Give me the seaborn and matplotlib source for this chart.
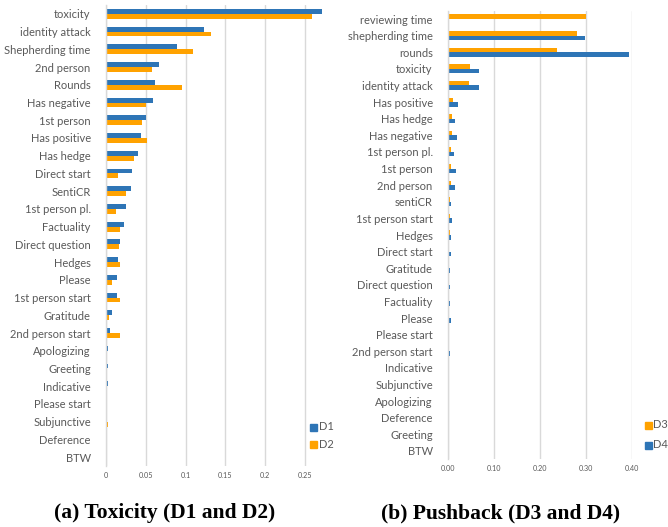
import numpy as np
import pandas as pd
import matplotlib
matplotlib.use("Agg")
import matplotlib.pyplot as plt
import seaborn as sns

# (a) Toxicity: features and values for D1 / D2
tox_features = ["toxicity", "identity attack", "Shepherding time", "2nd person", "Rounds",
                "Has negative", "1st person", "Has positive", "Has hedge", "Direct start",
                "SentiCR", "1st person pl.", "Factuality", "Direct question", "Hedges",
                "Please", "1st person start", "Gratitude", "2nd person start", "Apologizing",
                "Greeting", "Indicative", "Please start", "Subjunctive", "Deference", "BTW"]
d1 = [0.271, 0.1225, 0.089, 0.066, 0.061, 0.059, 0.050, 0.044, 0.040, 0.0325,
      0.0317, 0.025, 0.023, 0.018, 0.015, 0.014, 0.0133, 0.0075, 0.005, 0.0025,
      0.0025, 0.0025, 0.0008, 0.0005, 0.0003, 0.0]
d2 = [0.259, 0.132, 0.109, 0.0575, 0.096, 0.050, 0.045, 0.051, 0.035, 0.015,
      0.025, 0.012, 0.018, 0.016, 0.018, 0.0075, 0.0175, 0.0033, 0.018, 0.001,
      0.001, 0.0015, 0.0008, 0.003, 0.001, 0.0]

# (b) Pushback: features and values for D3 / D4
push_features = ["reviewing time", "shepherding time", "rounds", "toxicity", "identity attack",
                 "Has positive", "Has hedge", "Has negative", "1st person pl.", "1st person",
                 "2nd person", "sentiCR", "1st person start", "Hedges", "Direct start",
                 "Gratitude", "Direct question", "Factuality", "Please", "Please start",
                 "2nd person start", "Indicative", "Subjunctive", "Apologizing", "Deference",
                 "Greeting", "BTW"]
d3 = [0.300, 0.281, 0.238, 0.048, 0.046, 0.010, 0.0087, 0.0087, 0.007, 0.0065,
      0.006, 0.0036, 0.0036, 0.0036, 0.002, 0.002, 0.002, 0.002, 0.002, 0.0015,
      0.0015, 0.0015, 0.0015, 0.001, 0.0005, 0.0, 0.0]
d4 = [0.0, 0.297, 0.393, 0.068, 0.068, 0.021, 0.015, 0.019, 0.0138, 0.017,
      0.016, 0.007, 0.008, 0.0065, 0.0065, 0.0045, 0.0045, 0.005, 0.006, 0.002,
      0.004, 0.002, 0.002, 0.0015, 0.001, 0.0015, 0.0]

BLUE = "#2E75B6"
ORANGE = "#FFA200"
GREY = "#595959"

sns.set_theme(style="white")
plt.rcParams['font.family'] = ['Lato', 'DejaVu Sans']

fig = plt.figure(figsize=(6.68, 5.27), dpi=100)
W, H = 668.0, 527.0


def panel(rect, feats, a, b, na, nb, colors, xmax, ticks, ticklabels):
    ax = fig.add_axes(rect)
    df = pd.DataFrame({"feature": feats * 2,
                       "value": a + b,
                       "set": [na] * len(feats) + [nb] * len(feats)})
    sns.barplot(data=df, y="feature", x="value", hue="set", orient="h",
                palette=colors, width=0.55, ax=ax, legend=False, saturation=1)
    ax.set_xlim(0, xmax)
    ax.set_ylim(len(feats) - 0.5, -0.5)
    ax.set_xlabel("")
    ax.set_ylabel("")
    ax.set_xticks(ticks)
    ax.set_xticklabels(ticklabels)
    ax.xaxis.grid(True, color="#D9D9D9", linewidth=1.0)
    ax.set_axisbelow(True)
    for s in ["top", "right", "bottom"]:
        ax.spines[s].set_visible(False)
    ax.spines["left"].set_color("#D9D9D9")
    ax.spines["left"].set_linewidth(1.0)
    ax.tick_params(axis="y", length=0, pad=11, labelsize=8.0, labelcolor=GREY)
    ax.tick_params(axis="x", length=0, pad=4, labelsize=5.2, labelcolor=GREY)
    ax.set_yticks(np.arange(len(feats) + 1) - 0.5, minor=True)
    ax.tick_params(axis="y", which="minor", length=3, color="#D9D9D9", width=1)
    for p in ax.patches:
        p.set_edgecolor("none")
    return ax


# left panel
left = panel([106 / W, 1 - 466 / H, 219 / W, 461 / H], tox_features, d1, d2, "D1", "D2",
             [BLUE, ORANGE], 0.275, [0, 0.05, 0.1, 0.15, 0.2, 0.25],
             ["0", "0.05", "0.1", "0.15", "0.2", "0.25"])
# right panel
right = panel([448 / W, 1 - 459.3 / H, 184 / W, 448.6 / H], push_features, d3, d4, "D3", "D4",
              [ORANGE, BLUE], 0.40, [0, 0.1, 0.2, 0.3, 0.4],
              ["0.00", "0.10", "0.20", "0.30", "0.40"])


def legend_at(x, y, lab, c):
    fig.patches.append(plt.Rectangle((x / W, 1 - (y + 3.5) / H), 6.5 / W, 7 / H,
                                     transform=fig.transFigure, color=c))
    fig.text((x + 8.5) / W, 1 - y / H, lab, fontsize=8.0, color=GREY, va="center")


legend_at(310, 427, "D1", BLUE)
legend_at(310, 444, "D2", ORANGE)
legend_at(645, 425, "D3", ORANGE)
legend_at(645, 445, "D4", BLUE)

cap_font = ["Liberation Serif", "DejaVu Serif"]
fig.text(165 / W, 1 - 513 / H, "(a) Toxicity (D1 and D2)", ha="center", va="center",
         fontsize=15.5, fontweight="bold", family=cap_font, color="black")
fig.text(501 / W, 1 - 513 / H, "(b) Pushback (D3 and D4)", ha="center", va="center",
         fontsize=15.5, fontweight="bold", family=cap_font, color="black")

fig.savefig("out.png", dpi=100, facecolor="white")
